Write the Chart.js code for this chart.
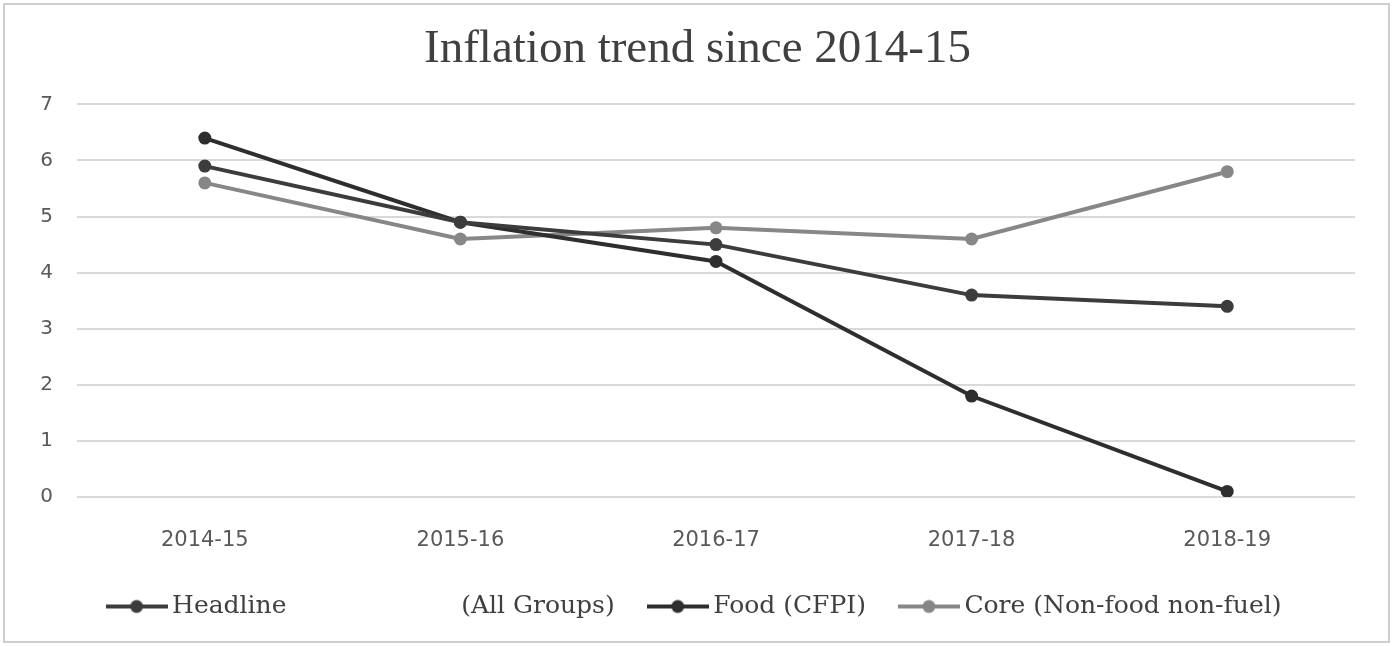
<!DOCTYPE html>
<html>
<head>
<meta charset="utf-8">
<script src="https://cdn.jsdelivr.net/npm/chart.js@4/dist/chart.umd.min.js"></script>
<style>
  html, body { margin: 0; padding: 0; background: #fff; }
  #wrap { width: 1395px; height: 646px; position: relative; }
</style>
</head>
<body>
<div id="wrap"><canvas id="inflChart" width="1395" height="646"></canvas></div>
<script>
// données
const years = ['2014-15', '2015-16', '2016-17', '2017-18', '2018-19'];
const headline = [5.9, 4.9, 4.5, 3.6, 3.4];
const food = [6.4, 4.9, 4.2, 1.8, 0.1];
const core = [5.6, 4.6, 4.8, 4.6, 5.8];
const yTicks = [0, 1, 2, 3, 4, 5, 6, 7];

// le libellé "Headline (All Groups)" est très espacé dans l'original
const seriesNames = [
    'Headline' + ' '.repeat(22) + '(All Groups)',
    'Food (CFPI)',
    'Core (Non-food non-fuel)'
];
const seriesColors = ['#3c3c3c', '#2e2e2e', '#878787'];

// petit symbole de légende : trait + point
function legendSymbol(color) {
    const c = document.createElement('canvas');
    c.width = 62; c.height = 16;
    const g = c.getContext('2d');
    g.strokeStyle = color;
    g.lineWidth = 4;
    g.beginPath(); g.moveTo(0, 8); g.lineTo(62, 8); g.stroke();
    g.fillStyle = color;
    g.beginPath(); g.arc(31, 8, 6.5, 0, Math.PI * 2); g.fill();
    return c;
}

const frame = {
    id: 'frame',
    beforeDraw(chart) {
        const ctx = chart.ctx;
        ctx.save();
        ctx.fillStyle = '#fff';
        ctx.fillRect(0, 0, chart.width, chart.height);
        ctx.strokeStyle = '#cfcfcf';
        ctx.lineWidth = 2;
        ctx.strokeRect(4, 4, 1385, 638);
        ctx.restore();
    }
};

function makeSet(label, data, color) {
    return {
        label: label,
        data: data,
        borderColor: color,
        backgroundColor: color,
        borderWidth: 4,
        pointRadius: 6.5,
        pointHoverRadius: 6.5,
        pointBorderWidth: 0,
        tension: 0
    };
}

new Chart(document.getElementById('inflChart'), {
    type: 'line',
    data: {
        labels: years,
        datasets: [
            makeSet(seriesNames[0], headline, seriesColors[0]),
            makeSet(seriesNames[1], food, seriesColors[1]),
            makeSet(seriesNames[2], core, seriesColors[2])
        ]
    },
    options: {
        responsive: false,
        animation: false,
        devicePixelRatio: 1,
        layout: { padding: { left: 40, right: 40, top: 0, bottom: 17 } },
        scales: {
            x: {
                offset: true,
                grid: { display: false },
                border: { display: false },
                afterFit: s => { s.height = 57; },
                ticks: {
                    color: '#595959',
                    padding: 23,
                    font: { family: 'DejaVu Sans', size: 21 },
                    maxRotation: 0
                }
            },
            y: {
                min: 0,
                max: 7,
                afterBuildTicks: s => { s.ticks = yTicks.map(v => ({ value: v })); },
                afterFit: s => { s.width = 37; },
                grid: { color: '#d9d9d9', lineWidth: 2, drawTicks: false },
                border: { display: false },
                ticks: {
                    color: '#595959',
                    padding: 24,
                    font: { family: 'DejaVu Sans', size: 20 }
                }
            }
        },
        plugins: {
            title: {
                display: true,
                text: 'Inflation trend since 2014-15',
                color: '#404040',
                font: { family: 'Liberation Serif', size: 47, weight: 'normal' },
                padding: { top: 21, bottom: 27 }
            },
            legend: {
                position: 'bottom',
                labels: {
                    usePointStyle: true,
                    pointStyleWidth: 46,
                    padding: 40,
                    color: '#404040',
                    font: { family: 'DejaVu Serif', size: 25 },
                    generateLabels: chart => chart.data.datasets.map((ds, i) => ({
                        text: ds.label,
                        fillStyle: ds.borderColor,
                        strokeStyle: ds.borderColor,
                        lineWidth: 0,
                        pointStyle: legendSymbol(ds.borderColor),
                        datasetIndex: i,
                        hidden: false,
                        fontColor: '#404040'
                    }))
                }
            },
            tooltip: { enabled: false }
        }
    },
    plugins: [frame]
});
</script>
</body>
</html>
